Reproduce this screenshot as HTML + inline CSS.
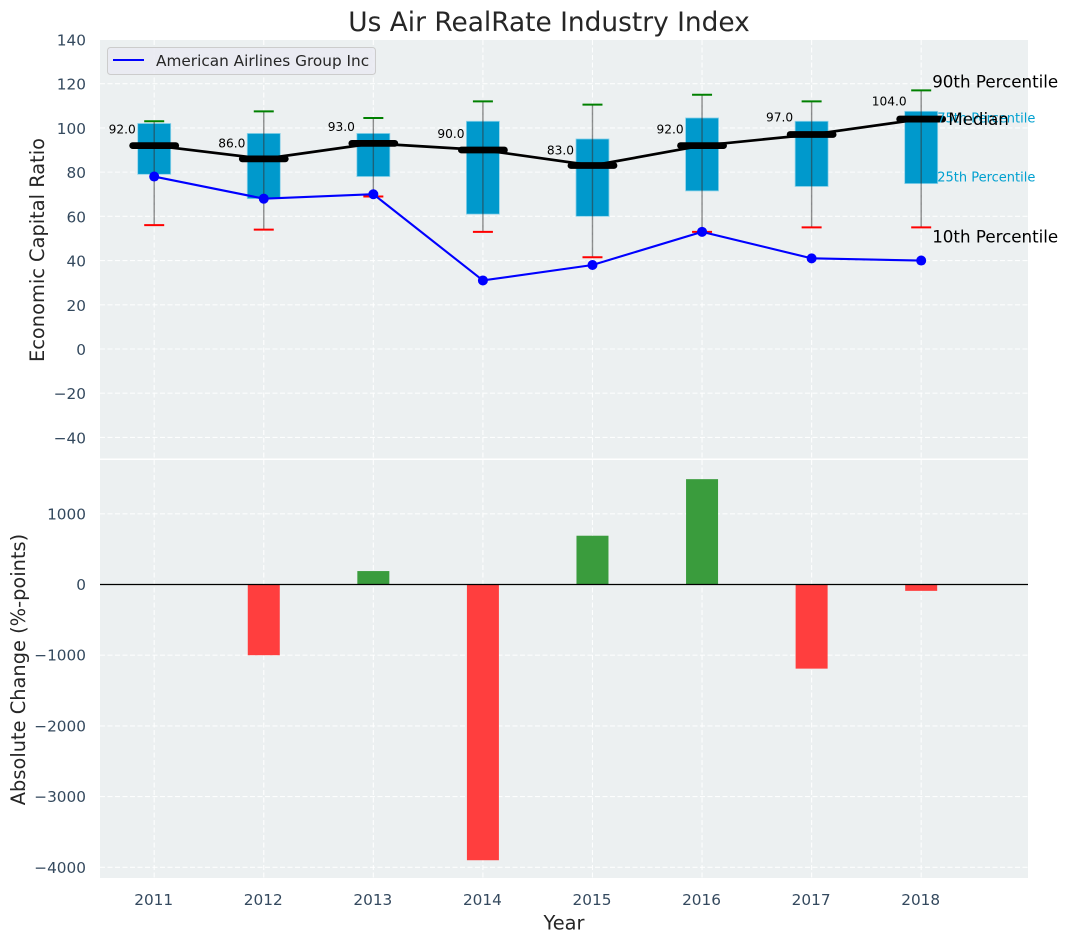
<!DOCTYPE html>
<html>
<head>
<meta charset="utf-8">
<title>Us Air RealRate Industry Index</title>
<style>
html,body{margin:0;padding:0;background:#fff;}
svg{display:block;font-family:"DejaVu Sans","Liberation Sans",sans-serif;}
</style>
</head>
<body>
<svg id="chart" xmlns="http://www.w3.org/2000/svg" width="1067" height="942" viewBox="0 0 1067 942"></svg>
<script>
const years = [2011, 2012, 2013, 2014, 2015, 2016, 2017, 2018];
const p90 = [103, 107.5, 104.5, 112, 110.5, 115, 112, 117];
const p75 = [102, 97.5, 97.5, 103, 95, 104.5, 103, 107.5];
const medians = [92, 86, 93, 90, 83, 92, 97, 104];
const p25 = [79, 68, 78, 61, 60, 71.5, 73.5, 74.8];
const p10 = [56, 54, 69, 53, 41.5, 53, 55, 55];
const company = [78, 68, 70, 31, 38, 53, 41, 40];
const changes = [0, -1000, 190, -3900, 690, 1490, -1190, -90];
const topTicks = [140, 120, 100, 80, 60, 40, 20, 0, -20, -40];
const bottomTicks = [1000, 0, -1000, -2000, -3000, -4000];

const svg = document.getElementById('chart');
const NS = 'http://www.w3.org/2000/svg';
const plotL = 100, plotR = 1028;
const topT = 40, topB = 458.5, botT = 460, botB = 878;
const x = v => 154.2 + (v - 2011) * 109.57;
const yTop = v => 349 - v * 2.211;
const yBot = v => 584.5 - v * 0.0707;
const minus = v => String(v).replace('-', '\u2212');

function make(tag, attrs, text) {
  const el = document.createElementNS(NS, tag);
  for (const k in attrs) el.setAttribute(k, attrs[k]);
  if (text !== undefined) el.textContent = text;
  svg.appendChild(el);
  return el;
}
function named(el, name) {
  
  
  return el;
}

named(make('rect', {x: plotL, y: topT, width: plotR - plotL, height: topB - topT, fill: '#ecf0f1'}), 'top-plot-background');
named(make('rect', {x: plotL, y: botT, width: plotR - plotL, height: botB - botT, fill: '#ecf0f1'}), 'bottom-plot-background');

const gridStyle = {stroke: '#ffffff', 'stroke-width': 1.1, 'stroke-dasharray': '5 2.5', fill: 'none', opacity: 0.9};
topTicks.forEach(t => {
  named(make('line', Object.assign({x1: plotL, x2: plotR, y1: yTop(t), y2: yTop(t)}, gridStyle)), 'top-grid-line-y');
  named(make('text', {x: 86, y: yTop(t) + 6, 'text-anchor': 'end', 'font-size': 15.3, fill: '#34495e'}, minus(t)), 'top-y-tick-label');
});
bottomTicks.forEach(t => {
  named(make('line', Object.assign({x1: plotL, x2: plotR, y1: yBot(t), y2: yBot(t)}, gridStyle)), 'bottom-grid-line-y');
  named(make('text', {x: 86, y: yBot(t) + 5.5, 'text-anchor': 'end', 'font-size': 15.3, fill: '#34495e'}, minus(t)), 'bottom-y-tick-label');
});
years.forEach(yr => {
  named(make('line', Object.assign({x1: x(yr), x2: x(yr), y1: topT, y2: topB}, gridStyle)), 'top-grid-line-x');
  named(make('line', Object.assign({x1: x(yr), x2: x(yr), y1: botT, y2: botB}, gridStyle)), 'bottom-grid-line-x');
  named(make('text', {x: x(yr) - 0.5, y: 905, 'text-anchor': 'middle', 'font-size': 15.3, fill: '#34495e'}, yr), 'x-tick-label');
});

/* boxes */
years.forEach((yr, i) => {
  const cx = x(yr);
  const w = 33;
  named(make('rect', {x: cx - w / 2, y: yTop(p75[i]), width: w, height: yTop(p25[i]) - yTop(p75[i]), fill: '#0099cc', stroke: '#8fd3ea', 'stroke-width': 0.8}), 'box-' + yr);
  named(make('line', {x1: cx, x2: cx, y1: yTop(p90[i]), y2: yTop(p10[i]), stroke: '#333333', 'stroke-opacity': 0.55, 'stroke-width': 1.4}), 'whisker-' + yr);
  named(make('line', {x1: cx - 10, x2: cx + 10, y1: yTop(p90[i]), y2: yTop(p90[i]), stroke: '#008000', 'stroke-width': 2}), 'p90-cap-' + yr);
  named(make('line', {x1: cx - 10, x2: cx + 10, y1: yTop(p10[i]), y2: yTop(p10[i]), stroke: '#ff0000', 'stroke-width': 2}), 'p10-cap-' + yr);
});

/* median connecting line */
named(make('polyline', {points: years.map((yr, i) => x(yr) + ',' + yTop(medians[i])).join(' '), fill: 'none', stroke: '#000000', 'stroke-width': 2.7}), 'median-line');
years.forEach((yr, i) => {
  named(make('line', {x1: x(yr) - 21.5, x2: x(yr) + 21.5, y1: yTop(medians[i]), y2: yTop(medians[i]), stroke: '#000000', 'stroke-width': 6.8, 'stroke-linecap': 'round'}), 'median-bar-' + yr);
  named(make('text', {x: x(yr) - 32, y: yTop(medians[i] * 1.06), 'text-anchor': 'middle', 'font-size': 12.2, fill: '#000000'}, medians[i].toFixed(1)), 'median-value-' + yr);
});

/* company line */
named(make('polyline', {points: years.map((yr, i) => x(yr) + ',' + yTop(company[i])).join(' '), fill: 'none', stroke: '#0000ff', 'stroke-width': 2.1}), 'company-line');
years.forEach((yr, i) => {
  named(make('circle', {cx: x(yr), cy: yTop(company[i]), r: 5, fill: '#0000ff'}), 'company-point-' + yr);
});

/* percentile annotations */
const lastYear = years[years.length - 1];
const lastIdx = years.length - 1;
named(make('text', {x: x(lastYear) + 16, y: yTop(p75[lastIdx]) + 11, 'font-size': 13, fill: '#00a0d0'}, '75th Percentile'), 'p75-annotation');
named(make('text', {x: x(lastYear) + 16, y: yTop(p25[lastIdx]) - 2, 'font-size': 13, fill: '#00a0d0'}, '25th Percentile'), 'p25-annotation');
named(make('text', {x: x(lastYear) + 11, y: yTop(p90[lastIdx]) - 3, 'font-size': 16.7, fill: '#000000'}, '90th Percentile'), 'p90-annotation');
named(make('text', {x: x(lastYear) + 11, y: yTop(p10[lastIdx]) + 15, 'font-size': 16.7, fill: '#000000'}, '10th Percentile'), 'p10-annotation');
named(make('text', {x: x(lastYear) + 27, y: yTop(medians[lastIdx]) + 6, 'font-size': 16.7, fill: '#000000'}, 'Median'), 'median-annotation');

/* change bars */
years.forEach((yr, i) => {
  const v = changes[i];
  if (v === 0) return;
  const y0 = Math.min(yBot(0), yBot(v));
  const h = Math.abs(yBot(v) - yBot(0));
  named(make('rect', {x: x(yr) - 16, y: y0, width: 32, height: h, fill: v > 0 ? '#3a9c3d' : '#ff3e3e'}), 'change-bar-' + yr);
});
named(make('line', {x1: plotL, x2: plotR, y1: yBot(0), y2: yBot(0), stroke: '#000000', 'stroke-width': 1.3}), 'zero-line');

/* titles */
named(make('text', {x: 549, y: 31, 'text-anchor': 'middle', 'font-size': 26.4, fill: '#262626'}, 'Us Air RealRate Industry Index'), 'chart-title');
named(make('text', {x: 564, y: 929.5, 'text-anchor': 'middle', 'font-size': 19.4, fill: '#262626'}, 'Year'), 'x-axis-title');
named(make('text', {x: 44, y: 250, 'text-anchor': 'middle', 'font-size': 19.4, fill: '#262626', transform: 'rotate(-90 44 250)'}, 'Economic Capital Ratio'), 'top-y-axis-title');
named(make('text', {x: 25, y: 669.5, 'text-anchor': 'middle', 'font-size': 19.4, fill: '#262626', transform: 'rotate(-90 25 669.5)'}, 'Absolute Change (%-points)'), 'bottom-y-axis-title');

/* legend */
named(make('rect', {x: 107.5, y: 47.5, width: 268, height: 27, rx: 3, fill: '#eaeaf2', 'fill-opacity': 0.85, stroke: '#cccccc', 'stroke-width': 1}), 'legend-box');
named(make('line', {x1: 113, x2: 144, y1: 60, y2: 60, stroke: '#0000ff', 'stroke-width': 2}), 'legend-line');
named(make('text', {x: 156, y: 66, 'font-size': 15.3, fill: '#262626'}, 'American Airlines Group Inc'), 'legend-label');
</script>
</body>
</html>
